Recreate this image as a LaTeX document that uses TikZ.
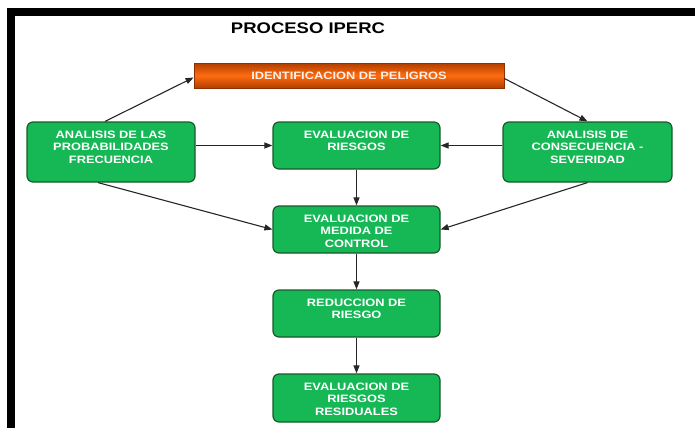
\documentclass[tikz,border=0pt]{standalone}
\usepackage{fontspec}
\setmainfont{Liberation Sans}[FakeStretch=1.2]
\usetikzlibrary{arrows.meta}

\definecolor{verde}{RGB}{22,184,86}
\definecolor{verdeborde}{RGB}{24,90,42}
\definecolor{naranja}{RGB}{255,108,16}
\definecolor{naranjaosc}{RGB}{176,62,0}

% top aligned label inside a box of fixed size
\newcommand{\caja}[3]{\parbox[c][#2][t]{#1}{\centering\vspace*{9pt}#3}}

\tikzset{
  paso/.style={draw=verdeborde, fill=verde, line width=1.2pt, rounded corners=6pt,
    inner sep=0pt, text=white, font=\fontsize{10.7}{12.5}\selectfont\bfseries},
  peligro/.style={draw=naranjaosc!80!black, line width=0.8pt, top color=naranjaosc,
    bottom color=naranjaosc, middle color=naranja, minimum width=310pt, minimum height=25pt,
    inner sep=0pt, text=white!90!naranja, font=\fontsize{10.7}{12.5}\selectfont\bfseries},
  flecha/.style={-{Triangle[length=8pt,width=6pt]}, line width=1.1pt, draw=black!85}
}

\begin{document}
\begin{tikzpicture}[x=1pt, y=-1pt]
  \useasboundingbox (0,0) rectangle (695,428);
  % marco
  \fill[black] (7,8) rectangle (695,16);
  \fill[black] (7,8) rectangle (15,428);

  \node[font=\fontsize{15.4}{18}\selectfont\bfseries] (titulo) at (308,28) {PROCESO IPERC};

  \node[peligro] (ident) at (349,75.5) {IDENTIFICACION DE PELIGROS};

  \node[paso] (prob) at (111,152) {\caja{168pt}{60pt}{ANALISIS DE LAS\\PROBABILIDADES\\FRECUENCIA}};
  \node[paso] (riesgo) at (356.5,145.5) {\caja{167pt}{47pt}{EVALUACION DE\\RIESGOS}};
  \node[paso] (sev) at (587.5,152) {\caja{169pt}{60pt}{ANALISIS DE\\CONSECUENCIA -\\SEVERIDAD}};
  \node[paso] (medida) at (356.5,229.5) {\caja{167pt}{47pt}{EVALUACION DE\\MEDIDA DE\\CONTROL}};
  \node[paso] (reduc) at (356.5,313.5) {\caja{167pt}{47pt}{REDUCCION DE\\RIESGO}};
  \node[paso] (resid) at (356.5,398) {\caja{167pt}{48pt}{EVALUACION DE\\RIESGOS\\RESIDUALES}};

  \draw[flecha] ([xshift=-6pt]prob.north) -- ([yshift=-2pt]ident.west);
  \draw[flecha] ([yshift=-3pt]ident.east) -- (sev.north);
  \draw[flecha] (riesgo.west -| prob.east) -- (riesgo.west);
  \draw[flecha] (riesgo.east -| sev.west) -- (riesgo.east);
  \draw[flecha] ([xshift=-13pt]prob.south) -- (medida.west);
  \draw[flecha] (sev.south) -- (medida.east);
  \draw[flecha] (riesgo) -- (medida);
  \draw[flecha] (medida) -- (reduc);
  \draw[flecha] (reduc) -- (resid);
\end{tikzpicture}
\end{document}
